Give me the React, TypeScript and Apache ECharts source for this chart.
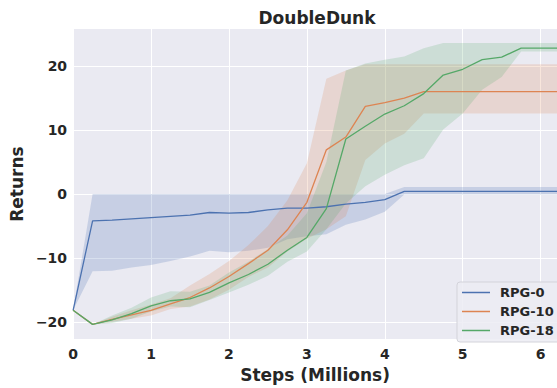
import React, { useEffect, useRef } from "react";
import * as echarts from "echarts";

const steps = [0, 0.25, 0.5, 0.75, 1, 1.25, 1.5, 1.75, 2, 2.25, 2.5, 2.75, 3, 3.25, 3.5, 3.75, 4, 4.25, 4.5, 4.75, 5, 5.25, 5.5, 5.75, 6, 6.21];

const rpg0Mean = [-18.2, -4.2, -4.1, -3.9, -3.7, -3.5, -3.3, -2.9, -3.0, -2.9, -2.5, -2.2, -2.2, -2.0, -1.6, -1.3, -0.9, 0.4, 0.4, 0.4, 0.4, 0.4, 0.4, 0.4, 0.4, 0.4];
const rpg0Lo = [-18.2, -12.1, -12.0, -11.5, -11.1, -10.5, -9.8, -8.9, -9.1, -8.9, -8.4, -7.1, -6.6, -6.3, -4.8, -4.0, -2.8, -0.1, -0.1, -0.1, -0.1, -0.1, -0.1, -0.1, -0.1, -0.1];
const rpg0Hi = [-18.2, 0, 0, 0, 0, 0, 0, 0, 0, 0, 0, 0, 0, 0, 0, 0, 0, 1.1, 1.1, 1.1, 1.1, 1.1, 1.1, 1.1, 1.1, 1.1];

const rpg10Mean = [-18.2, -20.4, -19.6, -18.9, -18.2, -17.2, -16.2, -14.7, -12.9, -10.9, -8.8, -5.6, -1.3, 6.9, 8.9, 13.7, 14.3, 15.0, 16.0, 16.0, 16.0, 16.0, 16.0, 16.0, 16.0, 16.0];
const rpg10Lo = [-18.2, -20.4, -20.0, -19.5, -19.0, -18.0, -17.6, -16.5, -15.0, -13.0, -11.5, -9.0, -7.0, -5.5, -3.5, 5.3, 7.9, 9.4, 12.6, 12.6, 12.6, 12.6, 12.6, 12.6, 12.6, 12.6];
const rpg10Hi = [-18.2, -20.4, -19.2, -18.2, -17.3, -16.3, -14.3, -12.5, -10.5, -8.0, -5.0, -1.0, 4.8, 18.0, 19.3, 20.3, 20.3, 20.3, 20.3, 20.3, 20.3, 20.3, 20.3, 20.3, 20.3, 20.3];

const rpg18Mean = [-18.2, -20.4, -19.7, -18.7, -17.5, -16.7, -16.4, -15.4, -13.9, -12.6, -11.0, -8.8, -6.8, -2.3, 8.6, 10.6, 12.5, 13.8, 15.7, 18.6, 19.5, 21.0, 21.4, 22.8, 22.8, 22.8];
const rpg18Lo = [-18.2, -20.4, -20.2, -19.5, -18.4, -17.6, -17.7, -16.6, -15.4, -14.2, -12.8, -10.6, -9.0, -5.5, -1.5, 1.2, 3.0, 4.5, 5.6, 10.1, 12.6, 16.3, 18.3, 22.3, 22.3, 22.3];
const rpg18Hi = [-18.2, -20.4, -19.0, -17.8, -16.2, -15.2, -15.3, -14.3, -12.3, -10.6, -8.6, -6.5, -3.0, 5.0, 19.3, 20.4, 21.0, 21.5, 22.8, 23.6, 23.6, 23.6, 23.6, 23.6, 23.6, 23.6];

const seriesNames = ["RPG-0", "RPG-10", "RPG-18"];
const yTicks = [-20, -10, 0, 10, 20];
const xTicks = [0, 1, 2, 3, 4, 5, 6];

const colors = ["#4C72B0", "#DD8452", "#55A868"];
const bandFills = ["rgba(76,114,176,0.22)", "rgba(221,132,82,0.2)", "rgba(85,168,104,0.2)"];

const FONT = "DejaVu Sans";
const TEXT = "#262626";

function bandSeries(lo: number[], hi: number[], fill: string) {
  return {
    type: "custom",
    silent: true,
    clip: true,
    z: 1,
    data: [[steps[0], lo[0]]],
    renderItem: (_params: any, api: any) => {
      const pts: number[][] = [];
      for (let i = 0; i < steps.length; i++) pts.push(api.coord([steps[i], hi[i]]));
      for (let i = steps.length - 1; i >= 0; i--) pts.push(api.coord([steps[i], lo[i]]));
      return { type: "polygon", shape: { points: pts }, style: { fill, stroke: "none" } };
    },
  };
}

function lineSeries(name: string, mean: number[], color: string) {
  return {
    type: "line",
    name,
    z: 3,
    data: steps.map((x, i) => [x, mean[i]]),
    symbol: "none",
    showSymbol: false,
    lineStyle: { color, width: 1.3 },
    itemStyle: { color },
  };
}

export default function App() {
  const ref = useRef<HTMLDivElement>(null);
  useEffect(() => {
    if (!ref.current) return;
    const chart = echarts.init(ref.current, undefined, { renderer: "svg" });
    const minus = (v: number) => String(v).replace("-", "\u2212");
    chart.setOption({
      animation: false,
      backgroundColor: "#ffffff",
      title: {
        text: "DoubleDunk",
        left: 317,
        top: 9,
        textAlign: "center",
        padding: 0,
        textStyle: { fontFamily: FONT, fontWeight: "bold", fontSize: 17, color: TEXT },
      },
      grid: { left: 72, top: 29, width: 490, height: 319, backgroundColor: "#EAEAF2", show: true, borderWidth: 0 },
      xAxis: {
        type: "value",
        min: 0,
        max: 6.21,
        name: "Steps (Millions)",
        nameLocation: "middle",
        nameGap: 22,
        nameTextStyle: { fontFamily: FONT, fontWeight: "bold", fontSize: 17, color: TEXT },
        axisLine: { show: false },
        axisTick: { show: false, customValues: xTicks },
        axisLabel: { customValues: xTicks, margin: 8, fontFamily: FONT, fontWeight: "bold", fontSize: 14, color: TEXT },
        splitLine: { show: true, lineStyle: { color: "#ffffff", width: 1 } },
      },
      yAxis: {
        type: "value",
        min: -22.7,
        max: 25.8,
        name: "Returns",
        nameLocation: "middle",
        nameGap: 39,
        nameTextStyle: { fontFamily: FONT, fontWeight: "bold", fontSize: 17, color: TEXT },
        axisLine: { show: false },
        axisTick: { show: false, customValues: yTicks },
        axisLabel: { customValues: yTicks, margin: 6, formatter: minus, fontFamily: FONT, fontWeight: "bold", fontSize: 14, color: TEXT },
        splitLine: { show: true, lineStyle: { color: "#ffffff", width: 1 } },
      },
      legend: {
        orient: "vertical",
        left: 457,
        top: 282,
        data: seriesNames,
        icon: "rect",
        itemWidth: 28,
        itemHeight: 1.5,
        itemGap: 4,
        padding: [3, 10, 4, 5],
        backgroundColor: "rgba(236,236,243,0.85)",
        borderColor: "#D3D3DA",
        borderWidth: 1,
        borderRadius: 3,
        textStyle: { fontFamily: FONT, fontWeight: "bold", fontSize: 13, color: TEXT, lineHeight: 15, padding: [0, 0, 0, 5] },
      },
      series: [
        bandSeries(rpg0Lo, rpg0Hi, bandFills[0]),
        bandSeries(rpg10Lo, rpg10Hi, bandFills[1]),
        bandSeries(rpg18Lo, rpg18Hi, bandFills[2]),
        lineSeries(seriesNames[0], rpg0Mean, colors[0]),
        lineSeries(seriesNames[1], rpg10Mean, colors[1]),
        lineSeries(seriesNames[2], rpg18Mean, colors[2]),
      ],
    });
    return () => chart.dispose();
  }, []);
  return <div ref={ref} style={{ position: "fixed", left: 0, top: 0, width: 557, height: 388 }} />;
}
